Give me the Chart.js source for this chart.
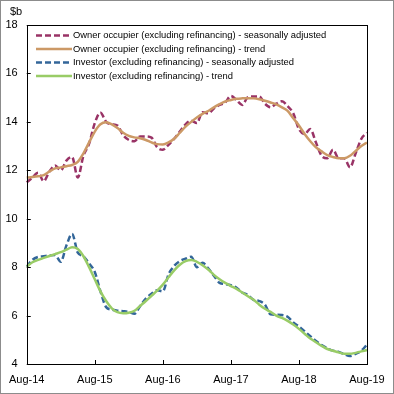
<!DOCTYPE html>
<html>
<head>
<meta charset="utf-8">
<script src="https://cdn.jsdelivr.net/npm/chart.js@4/dist/chart.umd.min.js"></script>
<style>
  html, body { margin: 0; padding: 0; background: #fff; }
  #wrap { width: 394px; height: 394px; }
</style>
</head>
<body>
<div id="wrap"><canvas id="lendingChart" width="394" height="394"></canvas></div>
<script>
// monthly, Aug-14 .. Aug-19
const monthNames = ['Jan', 'Feb', 'Mar', 'Apr', 'May', 'Jun', 'Jul', 'Aug', 'Sep', 'Oct', 'Nov', 'Dec'];
const months = [];
for (let i = 0; i <= 60; i++) {
    const m = (7 + i) % 12;
    const y = 14 + Math.floor((7 + i) / 12);
    months.push(monthNames[m] + '-' + y);
}

const ownerSA = [
    11.5, 11.7, 11.9, 11.55, 11.95, 12.2, 12.0, 12.4, 12.55, 11.7,
    12.6, 13.1, 13.95, 14.38, 14.0, 13.9, 13.85, 13.45, 13.25, 13.2,
    13.4, 13.4, 13.35, 12.95, 12.85, 13.05, 13.3, 13.6, 13.9, 14.05,
    13.95, 14.4, 14.35, 14.55, 14.7, 14.8, 15.07, 14.9, 14.7, 15.02,
    15.05, 15.05, 14.75, 14.6, 14.75, 14.85, 14.65, 14.35, 13.7, 13.5,
    13.7, 13.15, 12.6, 12.5, 12.85, 12.5, 12.5, 12.12, 12.7, 13.3, 13.55
];
const ownerTrend = [
    11.7, 11.72, 11.75, 11.8, 11.95, 12.08, 12.12, 12.17, 12.22, 12.35,
    12.7, 13.15, 13.6, 13.9, 13.98, 13.9, 13.75, 13.55, 13.42, 13.36,
    13.32, 13.25, 13.15, 13.08, 13.07, 13.15, 13.3, 13.55, 13.8, 14.0,
    14.18, 14.33, 14.45, 14.6, 14.73, 14.84, 14.9, 14.95, 14.97, 14.98,
    14.97, 14.93, 14.87, 14.8, 14.72, 14.6, 14.45, 14.15, 13.85, 13.5,
    13.2, 12.95, 12.78, 12.63, 12.55, 12.5, 12.5, 12.6, 12.8, 13.0, 13.15
];
const investorSA = [
    8.02, 8.3, 8.42, 8.45, 8.48, 8.5, 8.22, 8.9, 9.37, 8.6,
    8.45, 8.15, 7.8, 7.0, 6.35, 6.25, 6.2, 6.18, 6.15, 6.08,
    6.4, 6.7, 6.9, 7.05, 7.0, 7.7, 8.05, 8.25, 8.35, 8.43,
    8.0, 8.18, 7.95, 7.65, 7.35, 7.3, 7.25, 7.15, 6.95, 6.85,
    6.65, 6.6, 6.45, 6.05, 6.03, 6.02, 5.95, 5.72, 5.55, 5.35,
    5.15, 4.95, 4.78, 4.65, 4.55, 4.5, 4.4, 4.33, 4.42, 4.55, 4.8
];
const investorTrend = [
    8.02, 8.2, 8.3, 8.38, 8.46, 8.54, 8.62, 8.72, 8.82, 8.75,
    8.45, 8.0, 7.5, 7.0, 6.6, 6.3, 6.14, 6.1, 6.12, 6.2,
    6.4, 6.6, 6.82, 7.03, 7.28, 7.58, 7.87, 8.1, 8.25, 8.3,
    8.22, 8.08, 7.9, 7.68, 7.5, 7.35, 7.22, 7.1, 6.95, 6.8,
    6.65, 6.45, 6.28, 6.15, 6.0, 5.9, 5.78, 5.63, 5.45, 5.25,
    5.05, 4.9, 4.75, 4.62, 4.55, 4.48, 4.42, 4.42, 4.46, 4.52, 4.58
];
const seriesNames = [
    'Owner occupier (excluding refinancing) - seasonally adjusted',
    'Owner occupier (excluding refinancing) - trend',
    'Investor (excluding refinancing) - seasonally adjusted',
    'Investor (excluding refinancing) - trend'
];
const yTicks = [4, 6, 8, 10, 12, 14, 16, 18];

const FONT = '"Liberation Sans", Arial, sans-serif';

// frame, ticks, unit label and legend drawn on top of the chart
const decorations = {
    id: 'decorations',
    beforeDraw(chart) {
        const ctx = chart.ctx;
        ctx.save();
        ctx.fillStyle = '#fff';
        ctx.fillRect(0, 0, chart.width, chart.height);
        ctx.restore();
    },
    afterDraw(chart) {
        const ctx = chart.ctx;
        const a = chart.chartArea;
        const xs = chart.scales.x, ys = chart.scales.y;
        ctx.save();
        // outer border
        ctx.strokeStyle = '#8c8c8c';
        ctx.lineWidth = 1;
        ctx.strokeRect(0.5, 0.5, chart.width - 1, chart.height - 1);
        // plot frame
        ctx.strokeStyle = '#000';
        ctx.strokeRect(Math.round(a.left) + 0.5, Math.round(a.top) + 0.5,
            Math.round(a.right - a.left), Math.round(a.bottom - a.top));
        // inward ticks
        ctx.beginPath();
        yTicks.forEach(v => {
            const py = Math.round(ys.getPixelForValue(v)) + 0.5;
            ctx.moveTo(a.left, py);
            ctx.lineTo(a.left + 4, py);
        });
        months.forEach((m, i) => {
            if (i % 12 !== 0) return;
            const px = Math.round(xs.getPixelForValue(i)) + 0.5;
            ctx.moveTo(px, a.bottom);
            ctx.lineTo(px, a.bottom - 4);
        });
        ctx.stroke();
        // unit
        ctx.fillStyle = '#000';
        ctx.font = '11px ' + FONT;
        ctx.textBaseline = 'alphabetic';
        ctx.fillText('$b', 10, 15);
        // legend
        ctx.font = '9.4px ' + FONT;
        ctx.textBaseline = 'middle';
        chart.data.datasets.forEach((ds, i) => {
            const ly = 35.5 + i * 13.5;
            ctx.beginPath();
            ctx.strokeStyle = ds.borderColor;
            ctx.lineWidth = 2.5;
            ctx.setLineDash(ds.borderDash || []);
            ctx.moveTo(36, ly);
            ctx.lineTo(72, ly);
            ctx.stroke();
            ctx.setLineDash([]);
            ctx.fillStyle = '#000';
            ctx.fillText(ds.label, 73, ly);
        });
        ctx.restore();
    }
};

const datasets = [
    { label: seriesNames[0], data: ownerSA, borderColor: '#993366', borderDash: [6, 3], order: 1 },
    { label: seriesNames[1], data: ownerTrend, borderColor: '#cc9966', order: 0 },
    { label: seriesNames[2], data: investorSA, borderColor: '#336699', borderDash: [6, 3], order: 1 },
    { label: seriesNames[3], data: investorTrend, borderColor: '#99cc66', order: 0 }
].map(d => Object.assign({
    borderWidth: 2.5,
    pointRadius: 0,
    fill: false,
    tension: 0,
    cubicInterpolationMode: 'monotone'
}, d));

new Chart(document.getElementById('lendingChart'), {
    type: 'line',
    data: { labels: months, datasets: datasets },
    plugins: [decorations],
    options: {
        responsive: false,
        animation: false,
        layout: { padding: { top: 25, right: 27, left: 0, bottom: 0 } },
        plugins: {
            legend: { display: false },
            tooltip: { enabled: false }
        },
        scales: {
            x: {
                offset: false,
                grid: { display: false, drawTicks: false },
                border: { display: false },
                afterFit(scale) { scale.height = 30; },
                ticks: {
                    autoSkip: false,
                    maxRotation: 0,
                    padding: 9,
                    color: '#000',
                    font: { family: FONT, size: 11 },
                    callback(v, i) { return i % 12 === 0 ? months[i] : ''; }
                }
            },
            y: {
                min: 4,
                max: 18,
                grid: { display: false, drawTicks: false },
                border: { display: false },
                afterFit(scale) { scale.width = 25; },
                ticks: {
                    stepSize: 2,
                    padding: 9,
                    color: '#000',
                    font: { family: FONT, size: 11 }
                }
            }
        }
    }
});
</script>
</body>
</html>
